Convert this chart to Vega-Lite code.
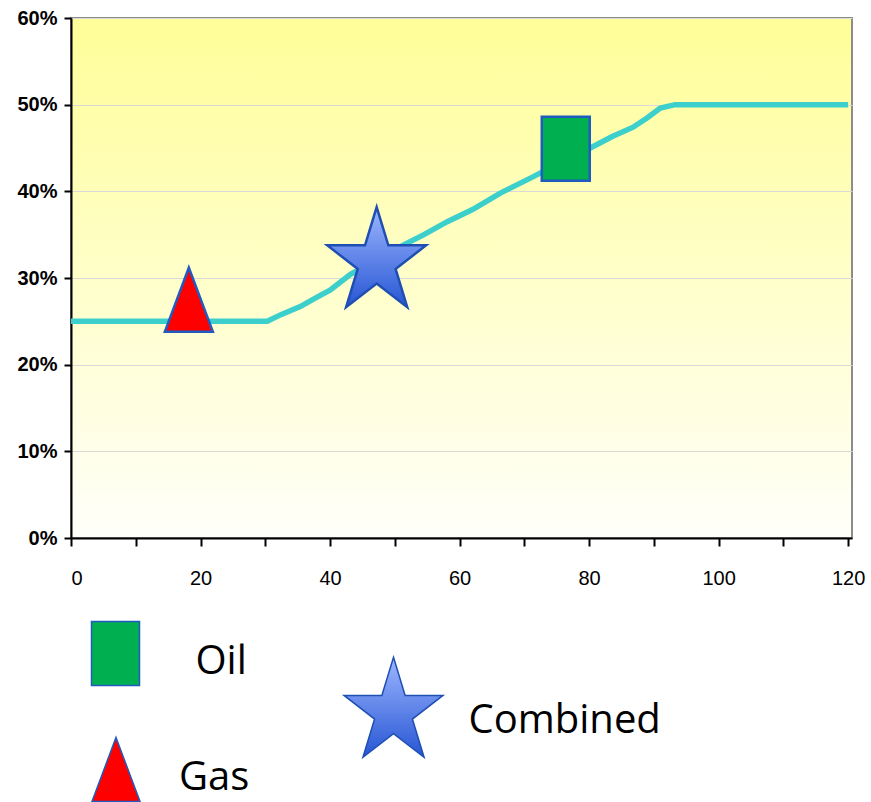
{
  "$schema": "https://vega.github.io/schema/vega-lite/v6.json",
  "width": 781,
  "height": 520,
  "autosize": {"type": "none"},
  "padding": {"left": 71, "top": 18, "right": 19, "bottom": 264},
  "background": "white",
  "view": {
    "fill": {"gradient": "linear", "x1": 0, "y1": 0, "x2": 0, "y2": 1,
      "stops": [{"offset": 0, "color": "#FFFE98"}, {"offset": 1, "color": "#FFFFFA"}]},
    "stroke": "#8C8C8C",
    "strokeWidth": 2
  },
  "config": {
    "axis": {"domainColor": "black", "domainWidth": 2, "tickColor": "black", "tickWidth": 2, "labelColor": "black", "title": null},
    "style": {"guide-label": {"dy": 8}}
  },
  "resolve": {
    "scale": {"shape": "independent"},
    "legend": {"shape": "independent"}
  },
  "layer": [
    {
      "data": {"values": [
        {"x": 0, "value": 0.25}, {"x": 30.3, "value": 0.25}, {"x": 32.5, "value": 0.258},
        {"x": 35.4, "value": 0.267}, {"x": 38, "value": 0.278}, {"x": 40, "value": 0.286},
        {"x": 43.1, "value": 0.304}, {"x": 47, "value": 0.32}, {"x": 51.3, "value": 0.338},
        {"x": 54.5, "value": 0.35}, {"x": 58.1, "value": 0.365}, {"x": 62, "value": 0.379},
        {"x": 66.3, "value": 0.398}, {"x": 71.4, "value": 0.417}, {"x": 76, "value": 0.435},
        {"x": 80.2, "value": 0.45}, {"x": 83.5, "value": 0.463}, {"x": 86.8, "value": 0.474},
        {"x": 89, "value": 0.485}, {"x": 91, "value": 0.496}, {"x": 93.3, "value": 0.5},
        {"x": 120, "value": 0.5}
      ]},
      "mark": {"type": "line", "color": "#3CCFCB", "strokeWidth": 5.5},
      "encoding": {
        "x": {"field": "x", "type": "quantitative",
          "scale": {"domain": [0, 120.6], "nice": false, "zero": false},
          "axis": {"values": [0,5,10,15,20,25,30,35,40,45,50,55,60,65,70,75,80,85,90,95,100,105,110,115,120],
            "labelExpr": "datum.value % 20 === 0 ? datum.label : ''",
            "labelOverlap": false, "tickSize": 8, "labelPadding": 14, "grid": false,
            "labelFont": "Liberation Sans Narrow, Liberation Sans", "labelFontSize": 20}},
        "y": {"field": "value", "type": "quantitative",
          "scale": {"domain": [0, 0.6], "nice": false},
          "axis": {"values": [0, 0.1, 0.2, 0.3, 0.4, 0.5, 0.6], "format": ".0%",
            "tickSize": 7, "labelPadding": 7, "labelOffset": -8, "grid": true, "gridColor": "#D9D9D9", "gridWidth": 1,
            "labelFont": "Liberation Sans Narrow, Liberation Sans", "labelFontSize": 20, "labelFontWeight": "bold"}}
      }
    },
    {
      "data": {"values": [{"series": "Gas", "x": 18.2, "value": 0.275}]},
      "mark": {"type": "point", "filled": true, "size": 10000, "opacity": 1, "fill": "#FF0000", "stroke": "#1F5BC0", "strokeWidth": 2.5},
      "encoding": {
        "x": {"field": "x", "type": "quantitative"},
        "y": {"field": "value", "type": "quantitative"},
        "shape": {"field": "series", "type": "nominal",
          "scale": {"range": ["M0,-0.64L0.48,0.64L-0.48,0.64Z"]},
          "legend": {"title": null, "orient": "none", "legendX": -6, "legendY": 700.5, "padding": 0,
            "symbolSize": 10000,
            "labelFont": "Open Sans", "labelFontSize": 40, "labelColor": "black", "labelOffset": 12, "labelLimit": 400}}
      }
    },
    {
      "data": {"values": [{"series": "Combined", "x": 47.2, "value": 0.318}]},
      "mark": {"type": "point", "filled": true, "size": 10000, "opacity": 1,
        "fill": {"gradient": "linear", "x1": 0, "y1": 0, "x2": 0, "y2": 1,
          "stops": [{"offset": 0, "color": "#9DB6FF"}, {"offset": 1, "color": "#2756D4"}]},
        "stroke": "#1F4FB3", "strokeWidth": 2.5},
      "encoding": {
        "x": {"field": "x", "type": "quantitative"},
        "y": {"field": "value", "type": "quantitative"},
        "shape": {"field": "series", "type": "nominal",
          "scale": {"range": ["M0,-1.106L0.233,-0.342L0.989,-0.342L0.378,0.131L0.611,0.895L0,0.423L-0.611,0.895L-0.378,0.131L-0.989,-0.342L-0.233,-0.342Z"]},
          "legend": {"title": null, "orient": "none", "legendX": 271.5, "legendY": 643.5, "padding": 0,
            "symbolSize": 10000,
            "labelFont": "Open Sans", "labelFontSize": 40, "labelColor": "black", "labelOffset": 24, "labelLimit": 400}}
      }
    },
    {
      "data": {"values": [{"series": "Oil", "x": 76.4, "value": 0.449}]},
      "mark": {"type": "point", "filled": true, "size": 10000, "opacity": 1, "fill": "#00B050", "stroke": "#1F5BC0", "strokeWidth": 2.5},
      "encoding": {
        "x": {"field": "x", "type": "quantitative"},
        "y": {"field": "value", "type": "quantitative"},
        "shape": {"field": "series", "type": "nominal",
          "scale": {"range": ["M-0.48,-0.64H0.48V0.64H-0.48Z"]},
          "legend": {"title": null, "orient": "none", "legendX": -6.5, "legendY": 584.5, "padding": 0,
            "symbolSize": 10000,
            "labelFont": "Open Sans", "labelFontSize": 40, "labelColor": "black", "labelOffset": 29, "labelLimit": 400}}
      }
    }
  ]
}
